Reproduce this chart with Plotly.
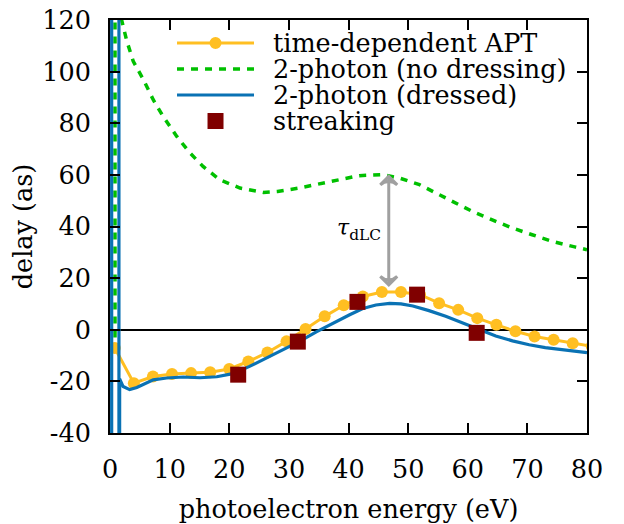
import plotly.graph_objects as go

# ---- data ----
apt_energy = [0.8, 4.0, 7.2, 10.4, 13.6, 16.8, 20.0, 23.2, 26.4, 29.6, 32.8, 36.0, 39.2,
              42.4, 45.6, 48.8, 52.0, 55.2, 58.4, 61.6, 64.8, 68.0, 71.2, 74.4, 77.6, 80.8]
apt_delay = [-7.1, -20.7, -18.1, -17.1, -16.8, -16.5, -15.2, -12.3, -8.8, -4.5, 0.3, 5.2, 9.5,
             12.9, 14.6, 14.6, 13.6, 10.3, 7.7, 4.5, 1.9, -0.6, -2.6, -3.9, -5.2, -6.4]

nodress_energy = [0.84, 0.84, 1.6, 1.95, 2.8, 3.9, 5.6, 7.25, 8.9, 11.2, 13.4, 15.6, 18.4, 21.8,
                  25.7, 28.1, 31.5, 35.1, 38.5, 41.8, 45.7, 48.5, 51.9, 56.3, 60.8, 64.7, 67.5,
                  70.8, 74.2, 78.1, 80.0]
nodress_delay = [-3.0, 500, 500, 120, 112, 104, 96.9, 89.1, 82.7, 74.9, 68.5, 63.3, 58.1, 54.9,
                 53.2, 53.6, 54.8, 56.6, 58.3, 59.7, 60.1, 58.8, 56.2, 51.0, 45.8, 42.0, 39.4,
                 36.8, 34.2, 32.0, 31.0]

dressed_energy = [0.28, 0.28, 1.5, 1.5, 1.62, 2.2, 3.3, 4.5, 5.6, 7.25, 9.5, 12.3, 15.1, 17.9,
                  20.6, 23.4, 26.2, 29.0, 31.8, 34.6, 37.4, 40.2, 42.4, 44.6, 46.9, 48.8, 50.8,
                  53.5, 56.3, 58.5, 60.8, 62.8, 64.7, 67.5, 70.3, 73.0, 75.9, 78.0, 80.0]
dressed_delay = [-500, 500, 500, -500, -19.0, -22.0, -23.2, -22.4, -21.3, -19.4, -18.7, -18.3,
                 -18.6, -18.2, -17.0, -14.2, -11.0, -7.7, -4.5, -0.8, 2.6, 5.8, 8.2, 9.6, 10.2,
                 10.0, 9.2, 7.4, 5.2, 3.2, 1.2, -0.8, -2.4, -4.3, -5.8, -6.9, -7.8, -8.4, -8.9]

streak_energy = [21.5, 31.5, 41.5, 51.5, 61.5]
streak_delay = [-17.4, -4.6, 10.8, 13.6, -1.2]

x_ticks = [0, 10, 20, 30, 40, 50, 60, 70, 80]
y_ticks = [-40, -20, 0, 20, 40, 60, 80, 100, 120]

tau_energy = 46.75
tau_top = 59.4
tau_bottom = 17.4

legend_labels = ["time-dependent APT", "2-photon (no dressing)", "2-photon (dressed)", "streaking"]

YELLOW = "#FFBF22"
GREEN = "#00C000"
BLUE = "#0A72B4"
RED = "#800000"
GRAY = "#A0A0A0"
FONT = "DejaVu Serif"
FS = 25.5
DASH = "7px,7px"

fig = go.Figure()
fig.add_trace(go.Scatter(x=apt_energy, y=apt_delay, mode="lines+markers",
                         line=dict(color=YELLOW, width=3),
                         marker=dict(color=YELLOW, size=12), showlegend=False))
fig.add_trace(go.Scatter(x=nodress_energy, y=nodress_delay, mode="lines",
                         line=dict(color=GREEN, width=3.5, dash=DASH), showlegend=False))
fig.add_trace(go.Scatter(x=dressed_energy, y=dressed_delay, mode="lines",
                         line=dict(color=BLUE, width=3.2), showlegend=False))
fig.add_trace(go.Scatter(x=streak_energy, y=streak_delay, mode="markers",
                         marker=dict(color=RED, size=16, symbol="square",
                                     line=dict(width=0)), showlegend=False))

# double-headed arrow marking tau_dLC
fig.add_trace(go.Scatter(x=[tau_energy, tau_energy], y=[tau_bottom, tau_top],
                         mode="lines+markers", line=dict(color=GRAY, width=3),
                         marker=dict(symbol="arrow-wide-open", size=12, angle=[180, 0],
                                     color=GRAY, line=dict(color=GRAY, width=3)),
                         showlegend=False, hoverinfo="skip"))
fig.add_annotation(x=41.8, y=38.8, xref="x", yref="y",
                   text="<i>τ</i><sub>dLC</sub>", showarrow=False,
                   font=dict(family=FONT, size=22, color="black"))

# custom legend (layout decoration)
lx0, lx1, lxm, ltx = 0.1405, 0.3019, 0.2212, 0.3375
rows = [0.9443, 0.8814, 0.8184, 0.7554]
shapes = [
    dict(type="line", xref="paper", yref="paper", x0=lx0, x1=lx1, y0=rows[0], y1=rows[0],
         line=dict(color=YELLOW, width=3)),
    dict(type="circle", xref="paper", yref="paper", xsizemode="pixel", ysizemode="pixel",
         xanchor=lxm, yanchor=rows[0], x0=-6, x1=6, y0=-6, y1=6,
         fillcolor=YELLOW, line=dict(width=0)),
    dict(type="line", xref="paper", yref="paper", x0=lx0, x1=lx1, y0=rows[1], y1=rows[1],
         line=dict(color=GREEN, width=3.5, dash=DASH)),
    dict(type="line", xref="paper", yref="paper", x0=lx0, x1=lx1, y0=rows[2], y1=rows[2],
         line=dict(color=BLUE, width=3.2)),
    dict(type="rect", xref="paper", yref="paper", xsizemode="pixel", ysizemode="pixel",
         xanchor=lxm, yanchor=rows[3], x0=-8, x1=8, y0=-8, y1=8,
         fillcolor=RED, line=dict(width=0)),
]
for lab, ry in zip(legend_labels, rows):
    fig.add_annotation(x=ltx, y=ry, xref="paper", yref="paper", text=lab, showarrow=False,
                       xanchor="left", yanchor="middle",
                       font=dict(family=FONT, size=FS, color="black"))

axis_common = dict(showline=True, linecolor="black", linewidth=2, mirror="ticks",
                   ticks="inside", ticklen=10, tickwidth=1.5, tickcolor="black",
                   showgrid=False, automargin=False, ticklabeloverflow="allow",
                   tickfont=dict(family=FONT, size=FS, color="black"))

# page body has an 8px margin, so the figure is 8px smaller than the window
fig.update_layout(
    width=616, height=516,
    margin=dict(l=102, r=37, t=12, b=91),
    paper_bgcolor="white", plot_bgcolor="white",
    font=dict(family=FONT, size=FS, color="black"),
    shapes=shapes,
    showlegend=False,
    xaxis=dict(range=[0, 80], tickvals=x_ticks, ticktext=[str(v) for v in x_ticks],
               zeroline=False, ticklabelstandoff=12,
               title=dict(text="photoelectron energy (eV)", standoff=20,
                          font=dict(family=FONT, size=FS)),
               **axis_common),
    yaxis=dict(range=[-40, 120], tickvals=y_ticks, ticktext=[str(v) for v in y_ticks],
               zeroline=True, zerolinecolor="black", zerolinewidth=1.5,
               ticklabelstandoff=12,
               title=dict(text="delay (as)", standoff=12, font=dict(family=FONT, size=FS)),
               **axis_common),
)

fig.write_html("out.html")
